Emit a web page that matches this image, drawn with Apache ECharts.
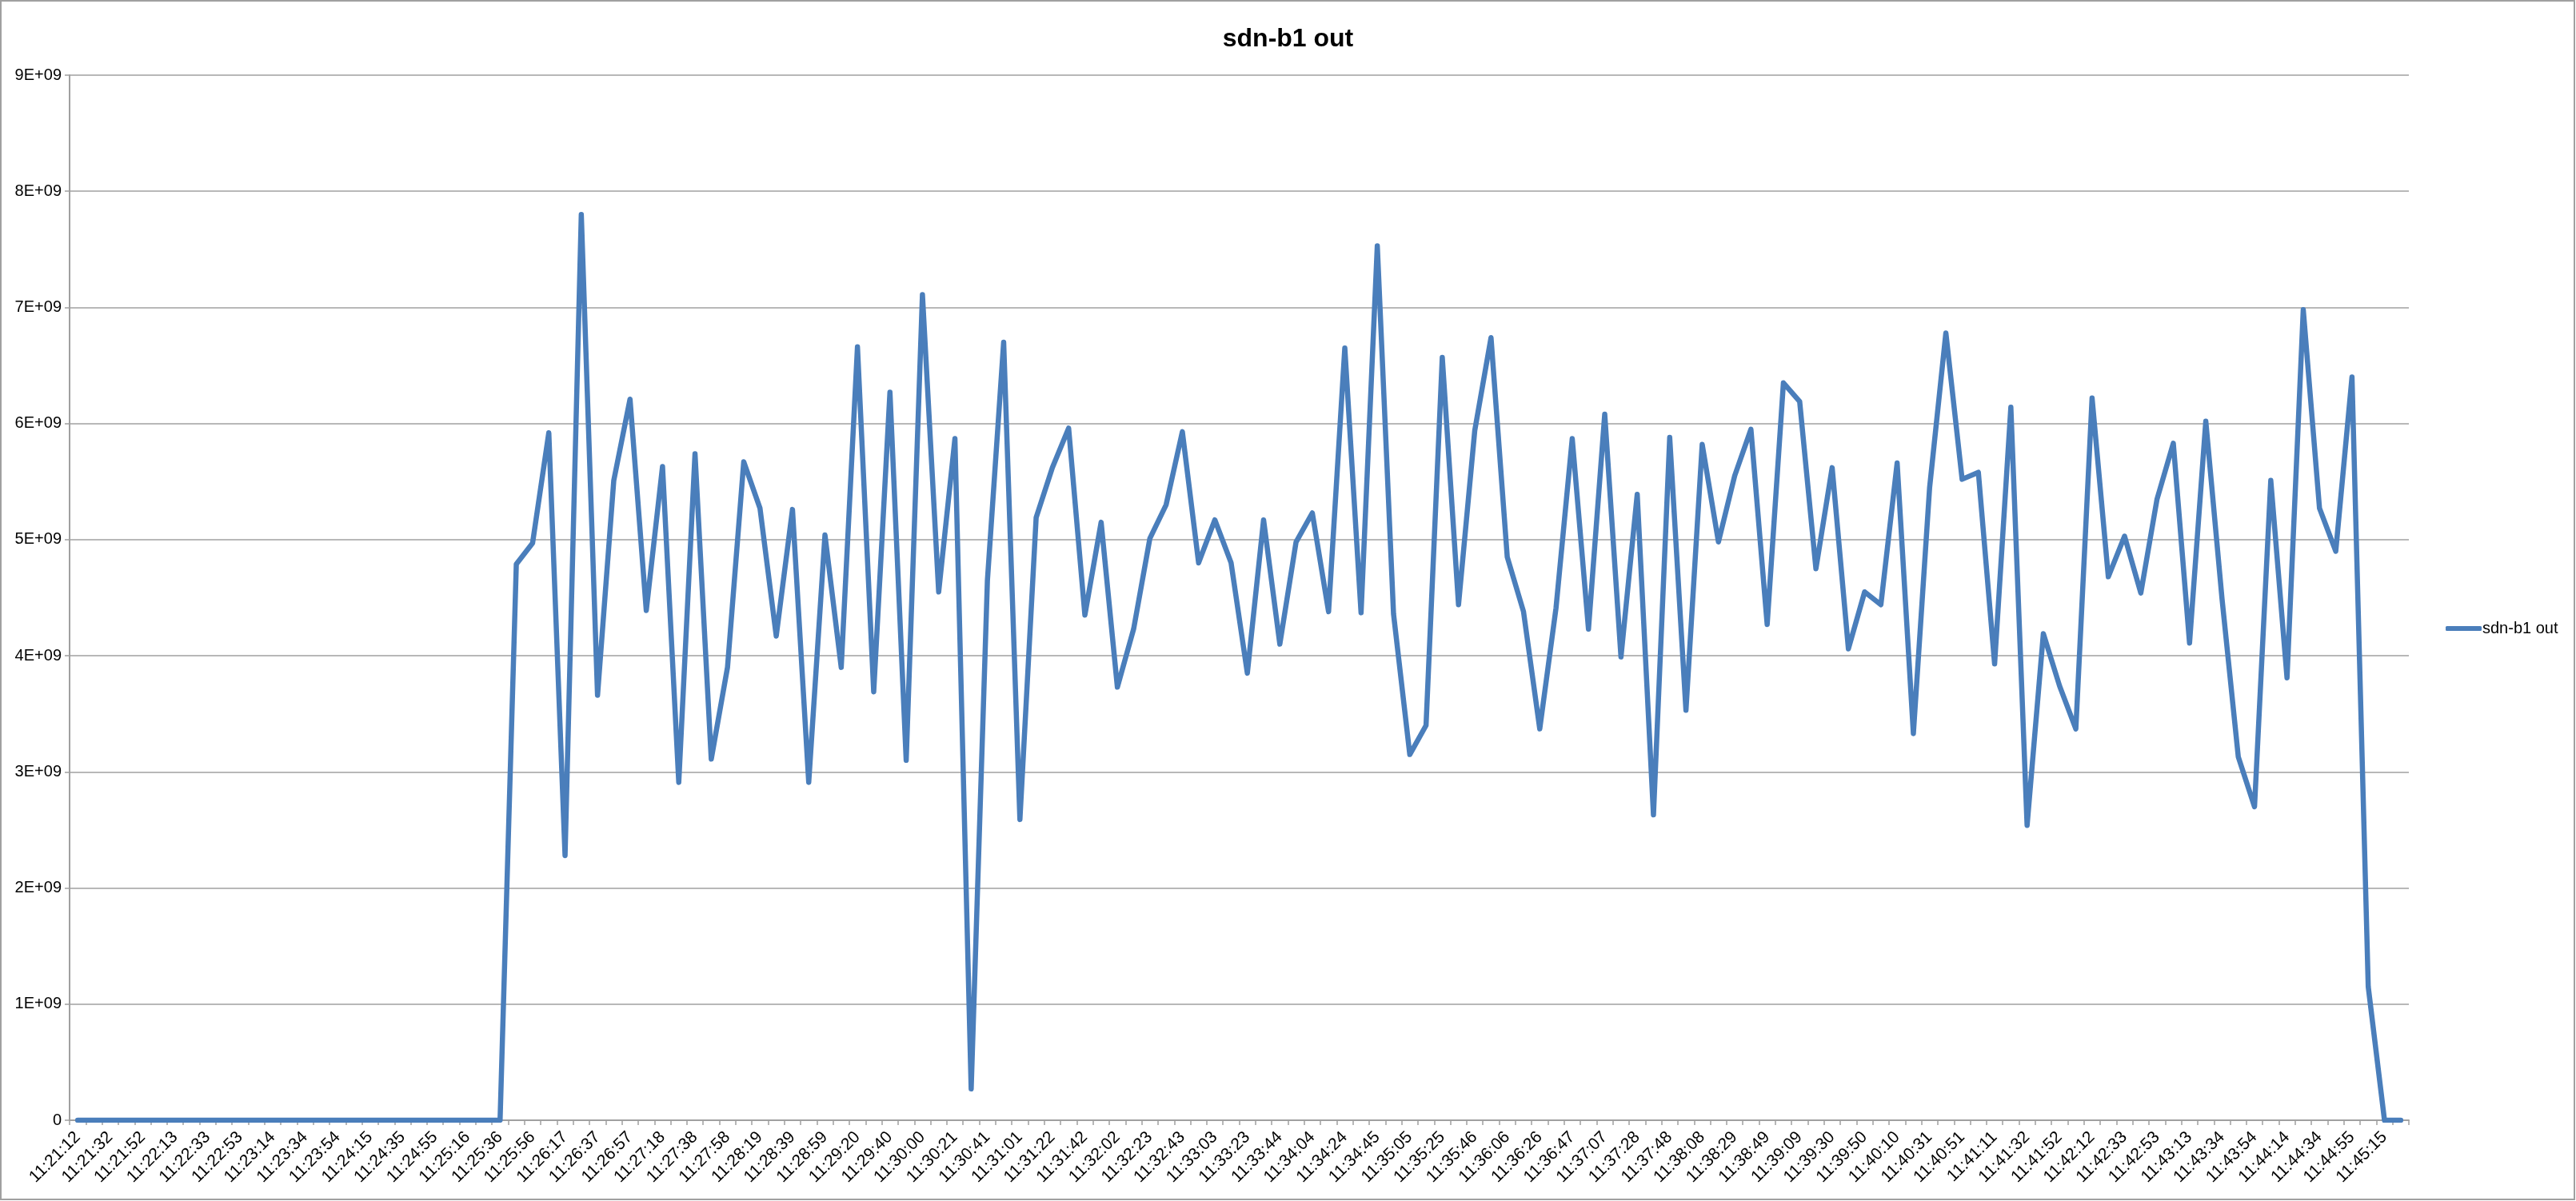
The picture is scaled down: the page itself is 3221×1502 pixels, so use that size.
<!DOCTYPE html>
<html>
<head>
<meta charset="utf-8">
<script src="https://cdn.jsdelivr.net/npm/echarts@6/dist/echarts.min.js"></script>
<style>
html,body{margin:0;padding:0;background:#fff;}
#chart{width:3221px;height:1502px;}
</style>
</head>
<body>
<div id="chart"></div>
<script>
const chartTitle = 'sdn-b1 out';
const seriesName = 'sdn-b1 out';

const categories = [
'11:21:12','11:21:22','11:21:32','11:21:42','11:21:52','11:22:02','11:22:13','11:22:23',
'11:22:33','11:22:43','11:22:53','11:23:03','11:23:14','11:23:24','11:23:34','11:23:44',
'11:23:54','11:24:04','11:24:15','11:24:25','11:24:35','11:24:45','11:24:55','11:25:05',
'11:25:16','11:25:26','11:25:36','11:25:46','11:25:56','11:26:06','11:26:17','11:26:27',
'11:26:37','11:26:47','11:26:57','11:27:07','11:27:18','11:27:28','11:27:38','11:27:48',
'11:27:58','11:28:08','11:28:19','11:28:29','11:28:39','11:28:49','11:28:59','11:29:09',
'11:29:20','11:29:30','11:29:40','11:29:50','11:30:00','11:30:10','11:30:21','11:30:31',
'11:30:41','11:30:51','11:31:01','11:31:11','11:31:22','11:31:32','11:31:42','11:31:52',
'11:32:02','11:32:12','11:32:23','11:32:33','11:32:43','11:32:53','11:33:03','11:33:13',
'11:33:23','11:33:33','11:33:44','11:33:54','11:34:04','11:34:14','11:34:24','11:34:34',
'11:34:45','11:34:55','11:35:05','11:35:15','11:35:25','11:35:35','11:35:46','11:35:56',
'11:36:06','11:36:16','11:36:26','11:36:36','11:36:47','11:36:57','11:37:07','11:37:17',
'11:37:28','11:37:38','11:37:48','11:37:58','11:38:08','11:38:18','11:38:29','11:38:39',
'11:38:49','11:38:59','11:39:09','11:39:19','11:39:30','11:39:40','11:39:50','11:40:00',
'11:40:10','11:40:20','11:40:31','11:40:41','11:40:51','11:41:01','11:41:11','11:41:21',
'11:41:32','11:41:42','11:41:52','11:42:02','11:42:12','11:42:22','11:42:33','11:42:43',
'11:42:53','11:43:03','11:43:13','11:43:23','11:43:34','11:43:44','11:43:54','11:44:04',
'11:44:14','11:44:24','11:44:34','11:44:44','11:44:55','11:45:05','11:45:15','11:45:25'
];

const outValues = [
0,0,0,0,0,0,0,0,0,0,0,0,0,0,0,0,0,0,0,0,0,0,0,0,0,0,0,
4.79e9,4.97e9,5.92e9,2.28e9,7.80e9,3.66e9,5.51e9,6.21e9,4.39e9,5.63e9,
2.91e9,5.74e9,3.11e9,3.90e9,5.67e9,5.27e9,4.17e9,5.26e9,2.91e9,
5.04e9,3.90e9,6.66e9,3.69e9,6.27e9,3.10e9,7.11e9,4.55e9,5.87e9,0.27e9,
4.65e9,6.70e9,2.59e9,5.19e9,5.62e9,5.96e9,4.35e9,5.15e9,3.73e9,4.23e9,
5.01e9,5.30e9,5.93e9,4.80e9,5.17e9,4.80e9,3.85e9,5.17e9,4.10e9,4.98e9,
5.23e9,4.38e9,6.65e9,4.37e9,7.53e9,4.36e9,3.15e9,3.40e9,6.57e9,
4.44e9,5.94e9,6.74e9,4.85e9,4.38e9,3.37e9,4.41e9,5.87e9,4.23e9,6.08e9,
3.99e9,5.39e9,2.63e9,5.88e9,3.53e9,5.82e9,4.98e9,5.55e9,5.95e9,4.27e9,
6.35e9,6.19e9,4.75e9,5.62e9,4.06e9,4.55e9,4.44e9,5.66e9,3.33e9,5.45e9,
6.78e9,5.52e9,5.58e9,3.93e9,6.14e9,2.54e9,4.19e9,3.74e9,3.37e9,6.22e9,
4.68e9,5.03e9,4.54e9,5.35e9,5.83e9,4.11e9,6.02e9,4.49e9,3.13e9,2.70e9,
5.51e9,3.81e9,6.98e9,5.27e9,4.90e9,6.40e9,1.15e9,0,0
];

const yTickLabels = ['0','1E+09','2E+09','3E+09','4E+09','5E+09','6E+09','7E+09','8E+09','9E+09'];
const yMin = 0, yMax = 9e9, yStep = 1e9;

const FONT = '"Liberation Sans", Arial, sans-serif';
const chart = echarts.init(document.getElementById('chart'), null, {renderer:'canvas'});
chart.setOption({
  animation: false,
  backgroundColor: '#ffffff',
  title: {
    text: chartTitle,
    left: 'center',
    top: 28,
    textStyle: {fontFamily: FONT, fontSize: 32, fontWeight: 'bold', color: '#000'}
  },
  legend: {
    data: [seriesName],
    left: 3053,
    top: 771,
    icon: 'roundRect',
    itemWidth: 45,
    itemHeight: 6,
    itemGap: 0,
    textStyle: {fontFamily: FONT, fontSize: 20, color: '#000', padding: [0,0,0,-4]}
  },
  grid: {left: 87, right: 209, top: 94, bottom: 101, containLabel: false},
  xAxis: {
    type: 'category',
    data: categories,
    boundaryGap: true,
    axisLine: {lineStyle: {color: '#a0a0a0', width: 2}},
    axisTick: {show: true, length: 6, interval: 0, lineStyle: {color: '#a0a0a0', width: 1.5}},
    axisLabel: {interval: 1, rotate: 45, margin: 18, fontFamily: FONT, fontSize: 21, color: '#000'},
    splitLine: {show: false}
  },
  yAxis: {
    type: 'value',
    min: yMin, max: yMax, interval: yStep,
    axisLine: {show: true, lineStyle: {color: '#a0a0a0', width: 2}},
    axisTick: {show: true, length: 6, lineStyle: {color: '#a0a0a0', width: 1.5}},
    axisLabel: {
      margin: 10, fontFamily: FONT, fontSize: 20, color: '#000',
      formatter: function (v) { return yTickLabels[Math.round((v - yMin) / yStep)]; }
    },
    splitLine: {show: true, lineStyle: {color: '#a0a0a0', width: 1.5}}
  },
  series: [{
    name: seriesName,
    type: 'line',
    data: outValues,
    showSymbol: false,
    symbol: 'none',
    lineStyle: {color: '#4a7ebb', width: 6.5, join: 'round', cap: 'round'},
    itemStyle: {color: '#4a7ebb'}
  }],
  graphic: [{
    type: 'rect',
    shape: {x: 1, y: 1, width: 3218, height: 1499},
    style: {fill: 'none', stroke: '#a0a0a0', lineWidth: 2},
    silent: true
  }]
});
</script>
</body>
</html>
